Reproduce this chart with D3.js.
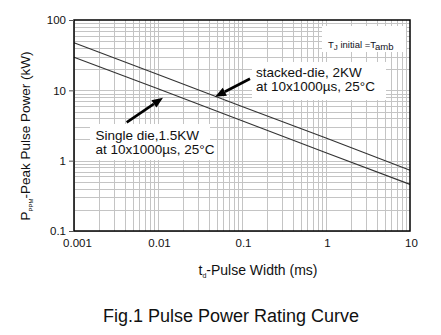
<!DOCTYPE html>
<html><head><meta charset="utf-8">
<script src="https://cdn.jsdelivr.net/npm/d3@7"></script>
<style>
html,body{margin:0;padding:0;background:#fff;}
svg{display:block;font-family:"Liberation Sans",Arial,sans-serif;}
</style></head>
<body>
<svg id="chart" width="441" height="335"></svg>
<script>
const pulseWidthMs = [0.001, 0.01, 0.1, 1, 10];
const stackedDieKW = [47.5, 16.8, 5.9, 2.1, 0.73];
const singleDieKW = [29.5, 10.5, 3.7, 1.3, 0.46];
const xTickLabels = ["0.001", "0.01", "0.1", "1", "10"];
const yTickLabels = ["0.1", "1", "10", "100"];
const yTickValues = [0.1, 1, 10, 100];

const svg = d3.select("#chart");
const m = {left: 74, right: 410, top: 20, bottom: 231};
const x = d3.scaleLog().domain([0.001, 10]).range([m.left, m.right]);
const y = d3.scaleLog().domain([0.1, 100]).range([m.bottom, m.top]);

// grid
const xGrid = [], yGrid = [];
for (let e = -3; e < 1; e++) for (let k = 1; k <= 9; k++) xGrid.push(k * Math.pow(10, e));
for (let e = -1; e < 2; e++) for (let k = 1; k <= 9; k++) yGrid.push(k * Math.pow(10, e));
const g = svg.append("g");
g.selectAll(".vx").data(xGrid).enter().append("line")
  .attr("x1", d => Math.round(x(d)) + 0.5).attr("x2", d => Math.round(x(d)) + 0.5)
  .attr("y1", m.top).attr("y2", m.bottom)
  .attr("stroke", "#c4c4c4").attr("stroke-width", 1);
g.selectAll(".hy").data(yGrid).enter().append("line")
  .attr("y1", d => Math.round(y(d)) + 0.5).attr("y2", d => Math.round(y(d)) + 0.5)
  .attr("x1", m.left).attr("x2", m.right)
  .attr("stroke", "#c4c4c4").attr("stroke-width", 1);

// white annotation boxes
const boxes = [
  [322, 26, 84, 26],
  [252, 62, 134, 38],
  [90, 124, 120, 36]
];
svg.selectAll(".box").data(boxes).enter().append("rect")
  .attr("x", d => d[0]).attr("y", d => d[1]).attr("width", d => d[2]).attr("height", d => d[3])
  .attr("fill", "#fff");

// curves
const line = d3.line().x(d => x(d[0])).y(d => y(d[1]));
[stackedDieKW, singleDieKW].forEach(s => {
  svg.append("path").datum(pulseWidthMs.map((t, i) => [t, s[i]]))
    .attr("d", line).attr("fill", "none").attr("stroke", "#333").attr("stroke-width", 1.1);
});

// frame
svg.append("rect").attr("x", m.left).attr("y", m.top)
  .attr("width", m.right - m.left).attr("height", m.bottom - m.top)
  .attr("fill", "none").attr("stroke", "#000").attr("stroke-width", 1.5);

// y axis ticks + labels
const yAxis = d3.axisLeft(y).tickValues(yTickValues).tickSize(5).tickPadding(3)
  .tickFormat((d, i) => yTickLabels[i]);
const ya = svg.append("g").attr("transform", `translate(${m.left},0)`).call(yAxis);
ya.select(".domain").remove();
ya.selectAll("line").attr("stroke", "#555");
ya.selectAll("text").attr("font-size", 11.5).attr("fill", "#111")
  .attr("font-family", "Liberation Sans, Arial, sans-serif");

// x axis labels
const xAxis = d3.axisBottom(x).tickValues(pulseWidthMs).tickSize(0).tickPadding(8)
  .tickFormat((d, i) => xTickLabels[i]);
const xa = svg.append("g").attr("transform", `translate(0,${m.bottom})`).call(xAxis);
xa.select(".domain").remove();
xa.selectAll("text").attr("font-size", 11.5).attr("fill", "#111")
  .attr("font-family", "Liberation Sans, Arial, sans-serif")
  .attr("dx", (d, i) => i === 0 ? 3 : 1);

// axis titles
const xt = svg.append("text").attr("x", 258).attr("y", 275).attr("text-anchor", "middle")
  .attr("font-size", 14).attr("fill", "#111");
xt.append("tspan").text("t");
xt.append("tspan").attr("font-size", 7).attr("dy", 3).text("d");
xt.append("tspan").attr("dy", -3).text("-Pulse Width (ms)");

const yt = svg.append("text").attr("transform", "translate(30,136) rotate(-90)")
  .attr("text-anchor", "middle").attr("font-size", 13.5).attr("fill", "#111");
yt.append("tspan").text("P");
yt.append("tspan").attr("font-size", 6).attr("dy", 3).text("PPM");
yt.append("tspan").attr("dy", -3).text("-Peak Pulse Power (kW)");

// title
svg.append("text").attr("x", 231).attr("y", 322).attr("text-anchor", "middle")
  .attr("font-size", 18).attr("fill", "#111").text("Fig.1 Pulse Power Rating Curve");

// annotation texts
const tj = svg.append("text").attr("x", 328).attr("y", 48).attr("font-size", 9.5).attr("fill", "#112");
tj.append("tspan").text("T");
tj.append("tspan").attr("font-size", 8).attr("dy", 2).text("J");
tj.append("tspan").attr("dy", -2).text(" initial =T");
tj.append("tspan").attr("font-size", 9.5).attr("dy", 2).text("amb");

const annot = [
  {lines: ["stacked-die, 2KW", "at 10x1000\u00b5s, 25\u00b0C"], tx: 256, ty: 76.5,
   tail: [0.1245, 14.6], tip: [0.0478, 8.1]},
  {lines: ["Single die,1.5KW", "at 10x1000\u00b5s, 25\u00b0C"], tx: 95.5, ty: 140,
   tail: [0.00424, 3.51], tip: [0.01147, 7.85]}
];
annot.forEach(a => {
  a.lines.forEach((l, i) => {
    svg.append("text").attr("x", a.tx).attr("y", a.ty + i * 14.2).attr("font-size", 13.5)
      .attr("fill", "#111").text(l);
  });
  const x1 = x(a.tail[0]), y1 = y(a.tail[1]), x2 = x(a.tip[0]), y2 = y(a.tip[1]);
  const ang = Math.atan2(y2 - y1, x2 - x1);
  const L = 11, W = 4.5;
  const bx = x2 - L * Math.cos(ang), by = y2 - L * Math.sin(ang);
  svg.append("line").attr("x1", x1).attr("y1", y1).attr("x2", bx).attr("y2", by)
    .attr("stroke", "#000").attr("stroke-width", 2.6);
  const px = -Math.sin(ang), py = Math.cos(ang);
  svg.append("path")
    .attr("d", `M${x2},${y2}L${bx + px * W},${by + py * W}L${bx - px * W},${by - py * W}Z`)
    .attr("fill", "#000");
});
</script>
</body></html>
